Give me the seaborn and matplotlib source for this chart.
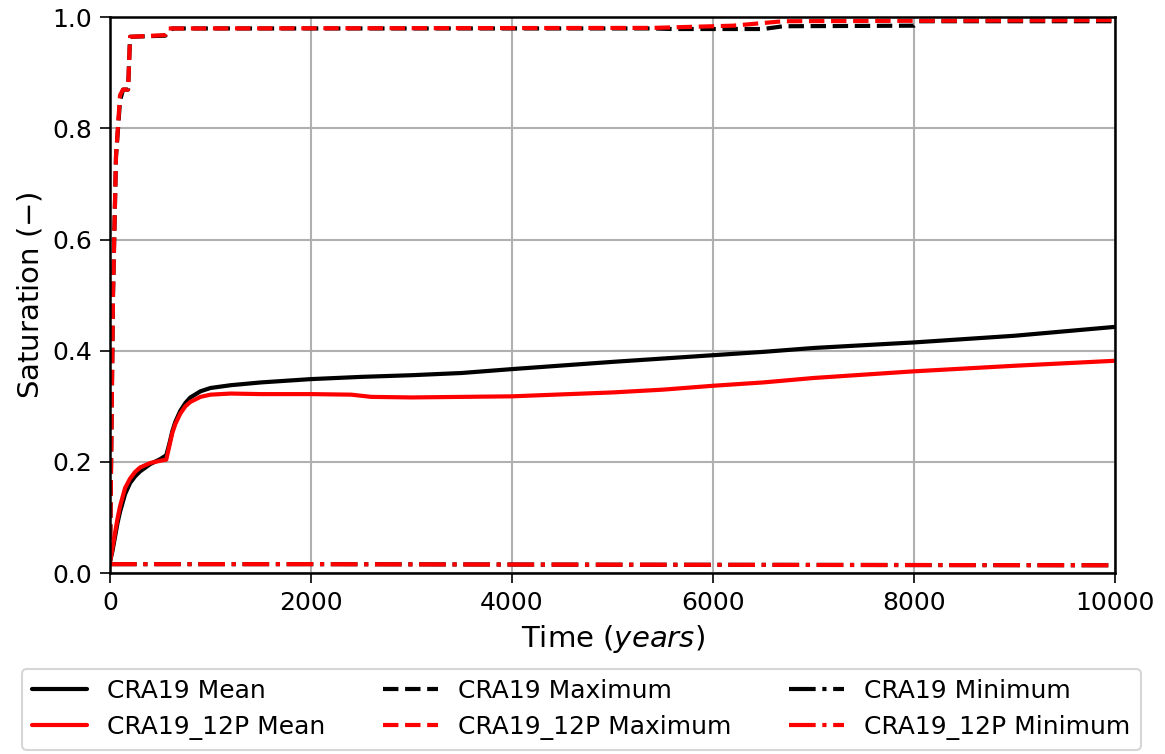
import matplotlib
matplotlib.use("Agg")
import matplotlib.pyplot as plt
import seaborn as sns

# CRA19 series (time in years, saturation)
t_mean_cra19 = [0, 25, 50, 75, 100, 150, 200, 250, 300, 400, 500, 560, 590, 620, 650, 700,
                750, 800, 900, 1000, 1200, 1500, 2000, 2500, 3000, 3500, 4000, 5000, 6000,
                6500, 7000, 8000, 9000, 10000]
s_mean_cra19 = [0.02, 0.04, 0.065, 0.09, 0.11, 0.142, 0.162, 0.174, 0.183, 0.196, 0.205,
                0.212, 0.232, 0.255, 0.272, 0.292, 0.306, 0.316, 0.327, 0.333, 0.338, 0.343,
                0.349, 0.353, 0.356, 0.36, 0.367, 0.38, 0.392, 0.398, 0.405, 0.415, 0.427,
                0.443]

t_max_cra19 = [0, 30, 60, 100, 130, 180, 200, 550, 620, 3000, 5400, 5600, 6500, 6700,
               8000, 8050, 10000]
s_max_cra19 = [0.02, 0.5, 0.75, 0.85, 0.87, 0.87, 0.965, 0.967, 0.98, 0.98, 0.98, 0.979,
               0.979, 0.984, 0.985, 0.993, 0.993]

t_min_cra19 = [0, 2000, 5000, 10000]
s_min_cra19 = [0.016, 0.016, 0.015, 0.014]

# CRA19_12P series
t_mean_12p = [0, 25, 50, 75, 100, 150, 200, 250, 300, 400, 500, 560, 590, 620, 650, 700,
              750, 800, 900, 1000, 1200, 1500, 2000, 2400, 2600, 3000, 4000, 5000, 5500,
              6000, 6500, 7000, 8000, 9000, 10000]
s_mean_12p = [0.02, 0.045, 0.072, 0.098, 0.12, 0.153, 0.17, 0.182, 0.19, 0.198, 0.202,
              0.204, 0.228, 0.252, 0.268, 0.287, 0.3, 0.308, 0.317, 0.321, 0.323, 0.322,
              0.322, 0.321, 0.317, 0.316, 0.318, 0.325, 0.33, 0.337, 0.343, 0.351, 0.363,
              0.373, 0.382]

t_max_12p = [0, 30, 60, 100, 130, 180, 200, 550, 580, 5400, 6200, 6700, 10000]
s_max_12p = [0.02, 0.5, 0.75, 0.86, 0.87, 0.87, 0.965, 0.968, 0.98, 0.981, 0.985, 0.993,
             0.995]

t_min_12p = [0, 2000, 5000, 10000]
s_min_12p = [0.016, 0.016, 0.015, 0.014]

sns.set_style("ticks")
plt.rcParams['font.family'] = ['DejaVu Sans']
plt.rcParams.update({'text.color': 'black', 'axes.labelcolor': 'black',
                     'xtick.color': 'black', 'ytick.color': 'black'})

fig = plt.figure(figsize=(1165 / 150, 754 / 150), dpi=150)
ax = fig.add_axes([0.0944, 0.24, 0.8627, 0.737])

lw = 2
sns.lineplot(x=t_mean_cra19, y=s_mean_cra19, color='black', lw=lw, ax=ax, label='CRA19 Mean')
sns.lineplot(x=t_max_cra19, y=s_max_cra19, color='black', lw=lw, ls='--', ax=ax, label='CRA19 Maximum')
sns.lineplot(x=t_min_cra19, y=s_min_cra19, color='black', lw=lw, ls='-.', ax=ax, label='CRA19 Minimum')
sns.lineplot(x=t_mean_12p, y=s_mean_12p, color='red', lw=lw, ax=ax, label='CRA19_12P Mean')
sns.lineplot(x=t_max_12p, y=s_max_12p, color='red', lw=lw, ls='--', ax=ax, label='CRA19_12P Maximum')
sns.lineplot(x=t_min_12p, y=s_min_12p, color='red', lw=lw, ls='-.', ax=ax, label='CRA19_12P Minimum')

ax.set_xlim(0, 10000)
ax.set_ylim(0, 1.0)
ax.grid(True, color='#b0b0b0', lw=1)
ax.tick_params(labelsize=12, direction='out', length=5, color='black')
for sp in ax.spines.values():
    sp.set_color('black')
    sp.set_linewidth(1.2)
ax.set_xlabel('Time ($years$)', fontsize=14)
ax.set_ylabel('Saturation ($-$)', fontsize=14)

# legend below the axes, column-wise order
handles, labels = ax.get_legend_handles_labels()
ax.get_legend().remove()
order = [0, 3, 1, 4, 2, 5]
fig.legend([handles[i] for i in order], [labels[i] for i in order],
           loc='lower left', bbox_to_anchor=(0.019, 0.005, 0.96, 0.1), mode='expand',
           ncol=3, fontsize=12, frameon=True, fancybox=True, edgecolor='#cccccc',
           handlelength=2.2, borderaxespad=0)

fig.savefig('out.png', dpi=150)
